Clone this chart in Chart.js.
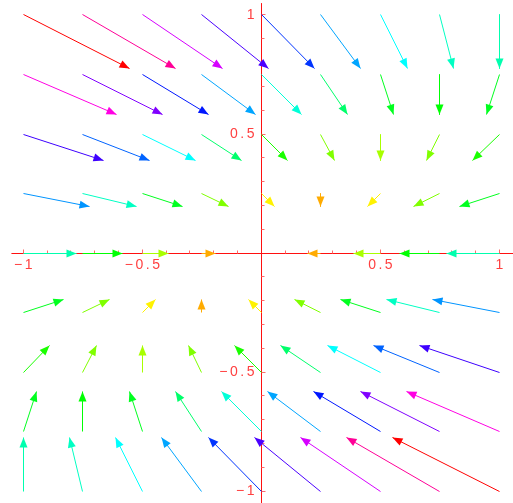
<!DOCTYPE html>
<html>
<head>
<meta charset="utf-8">
<script src="https://cdn.jsdelivr.net/npm/chart.js@4"></script>
<style>
html, body { margin: 0; padding: 0; background: #fff; }
#wrap { width: 513px; height: 503px; }
</style>
</head>
<body>
<div id="wrap"><canvas id="field"></canvas></div>
<script>
// Sample points of the field (columns left -> right, rows top -> bottom)
const GRID_X = [-1, -0.75, -0.5, -0.25, 0, 0.25, 0.5, 0.75, 1];
const GRID_Y = [1, 0.75, 0.5, 0.25, 0, -0.25, -0.5, -0.75, -1];

// horizontal component of each vector, one row per GRID_Y value
const U_ROWS = [
  [2, 1.75, 1.5, 1.25, 1, 0.75, 0.5, 0.25, 0],
  [1.75, 1.5, 1.25, 1, 0.75, 0.5, 0.25, 0, -0.25],
  [1.5, 1.25, 1, 0.75, 0.5, 0.25, 0, -0.25, -0.5],
  [1.25, 1, 0.75, 0.5, 0.25, 0, -0.25, -0.5, -0.75],
  [1, 0.75, 0.5, 0.25, 0, -0.25, -0.5, -0.75, -1],
  [0.75, 0.5, 0.25, 0, -0.25, -0.5, -0.75, -1, -1.25],
  [0.5, 0.25, 0, -0.25, -0.5, -0.75, -1, -1.25, -1.5],
  [0.25, 0, -0.25, -0.5, -0.75, -1, -1.25, -1.5, -1.75],
  [0, -0.25, -0.5, -0.75, -1, -1.25, -1.5, -1.75, -2]
];

// vertical component of each vector
const V_ROWS = [
  [-1, -1, -1, -1, -1, -1, -1, -1, -1],
  [-0.75, -0.75, -0.75, -0.75, -0.75, -0.75, -0.75, -0.75, -0.75],
  [-0.5, -0.5, -0.5, -0.5, -0.5, -0.5, -0.5, -0.5, -0.5],
  [-0.25, -0.25, -0.25, -0.25, -0.25, -0.25, -0.25, -0.25, -0.25],
  [0, 0, 0, 0, 0, 0, 0, 0, 0],
  [0.25, 0.25, 0.25, 0.25, 0.25, 0.25, 0.25, 0.25, 0.25],
  [0.5, 0.5, 0.5, 0.5, 0.5, 0.5, 0.5, 0.5, 0.5],
  [0.75, 0.75, 0.75, 0.75, 0.75, 0.75, 0.75, 0.75, 0.75],
  [1, 1, 1, 1, 1, 1, 1, 1, 1]
];

// axis ticks
const TICK_LABELS = [-1, -0.5, 0.5, 1];
const TICK_TEXT = ['\u22121', '\u22120.5', '0.5', '1'];
const MINOR_TICKS = [-1, -0.9, -0.8, -0.7, -0.6, -0.5, -0.4, -0.3, -0.2, -0.1,
                     0.1, 0.2, 0.3, 0.4, 0.5, 0.6, 0.7, 0.8, 0.9, 1];

// plot settings
const ARROW_SCALE = 0.2236;   // length of a unit vector in plot units
const HEAD_LEN = 10;
const HEAD_HALF = 4;
const AXIS_RED = '#ff1010';
const LABEL_RED = '#ff4040';

// colour by magnitude, full hue circle like Mathematica's Hue[]
const mags = U_ROWS.flatMap((row, r) => row.map((u, c) => Math.hypot(u, V_ROWS[r][c])));
const maxMag = Math.max(...mags);
const hueFor = m => `hsl(${(m / maxMag) * 360}, 100%, 50%)`;

// one small line dataset per arrow
const datasets = [];
GRID_Y.forEach((y, r) => {
  GRID_X.forEach((x, c) => {
    const u = U_ROWS[r][c], v = V_ROWS[r][c];
    const m = Math.hypot(u, v);
    if (m === 0) return; // nothing drawn at the fixed point
    const col = hueFor(m);
    datasets.push({
      data: [{x: x, y: y}, {x: x + u * ARROW_SCALE, y: y + v * ARROW_SCALE}],
      borderColor: col,
      backgroundColor: col,
      borderWidth: 1,
      pointRadius: 0,
      showLine: true,
      fill: false
    });
  });
});

// snap arrow ends to pixel centres so straight shafts stay 1px wide
const snapPlugin = {
  id: 'snap',
  afterUpdate(chart) {
    chart.data.datasets.forEach((ds, i) => {
      const meta = chart.getDatasetMeta(i);
      meta.data.forEach(p => {
        p.x = Math.round(p.x - 0.5) + 0.5;
        p.y = Math.round(p.y - 0.5) + 0.5;
      });
      if (meta.dataset) meta.dataset._path = undefined;
    });
  }
};

// draws the crossing axes, ticks and labels under the arrows
const axesPlugin = {
  id: 'axes',
  beforeDatasetsDraw(chart) {
    const {ctx, scales: {x: xs, y: ys}, chartArea} = chart;
    const x0 = Math.round(xs.getPixelForValue(0) - 0.5) + 0.5;
    const y0 = Math.round(ys.getPixelForValue(0) - 0.5) + 0.5;
    ctx.save();
    ctx.strokeStyle = AXIS_RED;
    ctx.lineWidth = 1;
    ctx.beginPath();
    ctx.moveTo(xs.getPixelForValue(-1.05), y0);
    ctx.lineTo(chartArea.right, y0);
    ctx.moveTo(x0, ys.getPixelForValue(1.05));
    ctx.lineTo(x0, chartArea.bottom);
    ctx.stroke();

    ctx.strokeStyle = '#ff6a6a';
    ctx.beginPath();
    MINOR_TICKS.forEach(t => {
      const len = (Math.abs(t * 2 - Math.round(t * 2)) < 1e-6) ? 4 : 3;
      const px = Math.round(xs.getPixelForValue(t) - 0.5) + 0.5;
      ctx.moveTo(px, y0);
      ctx.lineTo(px, y0 - len);
      const py = Math.round(ys.getPixelForValue(t) - 0.5) + 0.5;
      ctx.moveTo(x0, py);
      ctx.lineTo(x0 + len, py);
    });
    ctx.stroke();

    // spaced-out tick labels
    ctx.fillStyle = LABEL_RED;
    ctx.font = '14px "Liberation Sans", Arial, sans-serif';
    ctx.textBaseline = 'middle';
    ctx.textAlign = 'left';
    const spacing = 2.5;
    const drawSpaced = (txt, left, mid) => {
      let cx = left;
      for (const ch of txt) {
        ctx.fillText(ch, cx, mid);
        cx += ctx.measureText(ch).width + spacing;
      }
    };
    const widthOf = txt => [...txt].reduce((a, ch) => a + ctx.measureText(ch).width, 0) + spacing * (txt.length - 1);
    TICK_LABELS.forEach((t, i) => {
      const txt = TICK_TEXT[i];
      const w = widthOf(txt);
      drawSpaced(txt, xs.getPixelForValue(t) - w / 2, y0 + 12);
      drawSpaced(txt, x0 - 7 - w, ys.getPixelForValue(t) + 0.5);
    });
    ctx.restore();
  }
};

// filled arrowheads at the end of every shaft
const headsPlugin = {
  id: 'heads',
  afterDatasetsDraw(chart) {
    const ctx = chart.ctx;
    ctx.save();
    chart.data.datasets.forEach((ds, i) => {
      const pts = chart.getDatasetMeta(i).data;
      const a = pts[0], b = pts[1];
      const ang = Math.atan2(b.y - a.y, b.x - a.x);
      const cos = Math.cos(ang), sin = Math.sin(ang);
      const bx = b.x - HEAD_LEN * cos, by = b.y - HEAD_LEN * sin;
      ctx.fillStyle = ds.borderColor;
      ctx.beginPath();
      ctx.moveTo(b.x, b.y);
      ctx.lineTo(bx - HEAD_HALF * sin, by + HEAD_HALF * cos);
      ctx.lineTo(bx + HEAD_HALF * sin, by - HEAD_HALF * cos);
      ctx.closePath();
      ctx.fill();
    });
    ctx.restore();
  }
};

new Chart(document.getElementById('field'), {
  type: 'scatter',
  data: { datasets },
  options: {
    responsive: true,
    maintainAspectRatio: false,
    animation: false,
    events: [],
    layout: { padding: 0 },
    scales: {
      x: { type: 'linear', min: -1.098, max: 1.057, display: false },
      y: { type: 'linear', min: -1.050, max: 1.063, display: false }
    },
    plugins: {
      legend: { display: false },
      tooltip: { enabled: false }
    }
  },
  plugins: [snapPlugin, axesPlugin, headsPlugin]
});
</script>
</body>
</html>
